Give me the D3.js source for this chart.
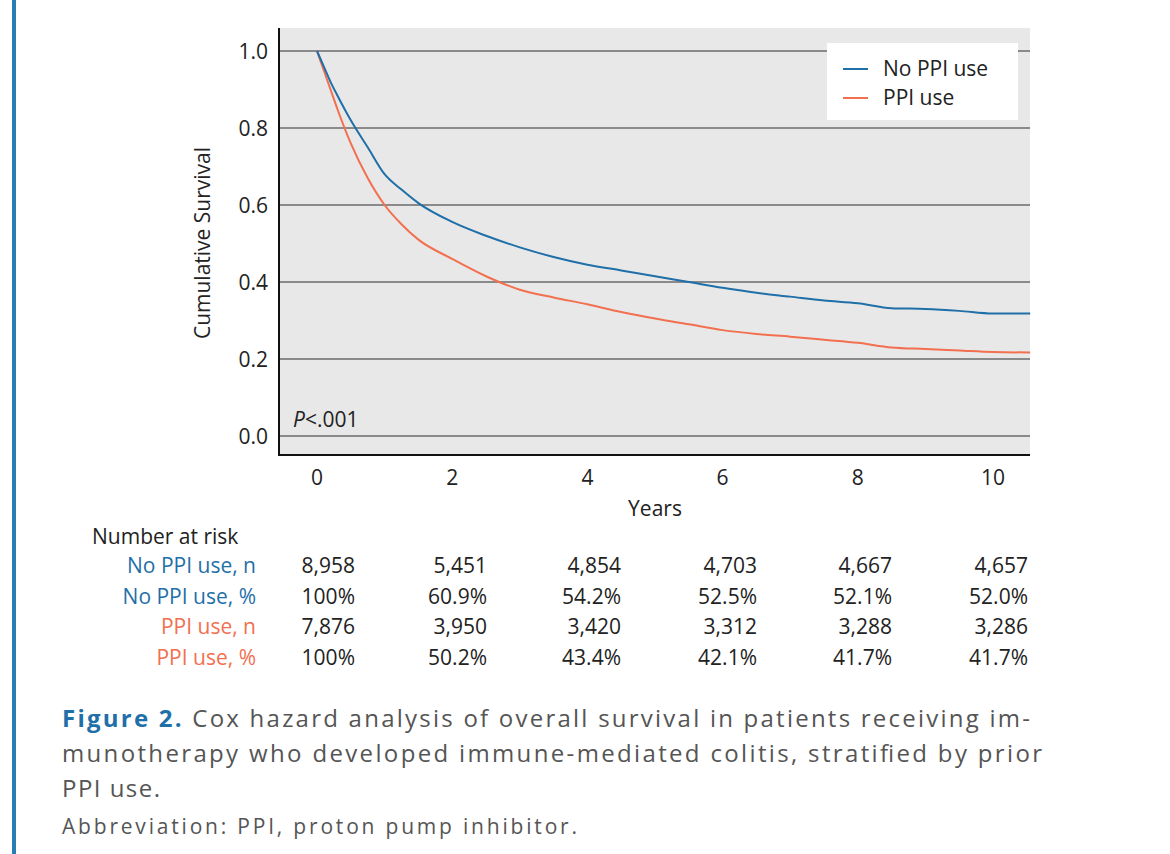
<!DOCTYPE html>
<html><head><meta charset="utf-8">
<script src="https://cdn.jsdelivr.net/npm/d3@7"></script>
<style>body{margin:0;background:#fff;font-family:"Open Sans",sans-serif}</style>
</head><body><svg id="c" width="1170" height="854"></svg>
<script>
// survival curves: [years, survival]
const noPpi = [[0,1],[0.1,0.96],[0.2,0.92],[0.3,0.885],[0.5,0.82],[0.75,0.75],[1,0.68],[1.25,0.64],[1.5,0.605],[2,0.556],[2.5,0.52],[3,0.49],[3.5,0.465],[4,0.445],[4.5,0.43],[5,0.415],[5.5,0.4],[6,0.385],[6.5,0.372],[7,0.362],[7.5,0.352],[8,0.345],[8.5,0.332],[9,0.33],[9.5,0.325],[10,0.318],[10.55,0.318]];
const ppi = [[0,1],[0.1,0.95],[0.2,0.9],[0.3,0.85],[0.5,0.76],[0.75,0.67],[1,0.6],[1.25,0.55],[1.5,0.51],[2,0.46],[2.5,0.415],[3,0.38],[3.5,0.36],[4,0.342],[4.5,0.322],[5,0.305],[5.5,0.29],[6,0.275],[6.5,0.265],[7,0.258],[7.5,0.25],[8,0.242],[8.5,0.23],[9,0.226],[9.5,0.222],[10,0.218],[10.55,0.217]];
const xTicks = [0,2,4,6,8,10];
const yTicks = [0,0.2,0.4,0.6,0.8,1.0];
const riskLabels = ["No PPI use, n","No PPI use, %","PPI use, n","PPI use, %"];
const riskRows = [
  ["8,958","5,451","4,854","4,703","4,667","4,657"],
  ["100%","60.9%","54.2%","52.5%","52.1%","52.0%"],
  ["7,876","3,950","3,420","3,312","3,288","3,286"],
  ["100%","50.2%","43.4%","42.1%","41.7%","41.7%"]
];
const blue = "#1f6fa8", orange = "#f2704f";
const rowColors = [blue, blue, orange, orange];

const svg = d3.select("#c");
svg.append("rect").attr("x",12).attr("y",0).attr("width",4).attr("height",854).attr("fill","#2a7cb4");

const L = 279, R = 1030, T = 28, B = 455;
const x = d3.scaleLinear().domain([0,10]).range([317,993]);
const y = d3.scaleLinear().domain([0,1]).range([436,51]);

svg.append("rect").attr("x",L).attr("y",T).attr("width",R-L).attr("height",B-T).attr("fill","#e8e8e8");
yTicks.forEach(t => svg.append("line").attr("x1",L).attr("x2",R).attr("y1",y(t)).attr("y2",y(t))
  .attr("stroke","#8a8a8a").attr("stroke-width",2));
svg.append("path").attr("d",`M${L},${T}V${B}H${R}`).attr("fill","none").attr("stroke","#111").attr("stroke-width",2);

const fs = 21;
yTicks.forEach(t => svg.append("text").attr("x",268).attr("y",y(t)+8).attr("text-anchor","end")
  .attr("font-size",fs).attr("fill","#222").text(t.toFixed(1)));
xTicks.forEach(t => svg.append("text").attr("x",x(t)).attr("y",485).attr("text-anchor","middle")
  .attr("font-size",fs).attr("fill","#222").text(t));
svg.append("text").attr("x",655).attr("y",516).attr("text-anchor","middle").attr("font-size",fs).attr("fill","#222").text("Years");
svg.append("text").attr("transform","translate(210,243) rotate(-90)").attr("text-anchor","middle")
  .attr("font-size",fs).attr("fill","#222").text("Cumulative Survival");
svg.append("text").attr("x",293).attr("y",427).attr("font-size",fs).attr("fill","#222")
  .html('<tspan font-style="italic">P</tspan>&lt;.001');

const line = d3.line().x(d => x(d[0])).y(d => y(d[1])).curve(d3.curveMonotoneX);
svg.append("path").datum(ppi).attr("d",line).attr("fill","none").attr("stroke",orange).attr("stroke-width",2);
svg.append("path").datum(noPpi).attr("d",line).attr("fill","none").attr("stroke",blue).attr("stroke-width",2);

// legend
svg.append("rect").attr("x",827).attr("y",43).attr("width",191).attr("height",77).attr("fill","#fff");
[["No PPI use",blue],["PPI use",orange]].forEach((d,i) => {
  const yy = 69 + i*29;
  svg.append("line").attr("x1",843).attr("x2",868).attr("y1",yy).attr("y2",yy).attr("stroke",d[1]).attr("stroke-width",2);
  svg.append("text").attr("x",883).attr("y",yy+7).attr("font-size",fs).attr("fill","#222").text(d[0]);
});

// number at risk table
svg.append("text").attr("x",92).attr("y",544).attr("font-size",fs).attr("fill","#222").text("Number at risk");
const colX = [355,487,621,757,892,1028];
riskRows.forEach((row,i) => {
  const yy = 573 + i*30.5;
  svg.append("text").attr("x",256).attr("y",yy).attr("text-anchor","end").attr("font-size",fs).attr("fill",rowColors[i]).text(riskLabels[i]);
  row.forEach((v,j) => svg.append("text").attr("x",colX[j]).attr("y",yy).attr("text-anchor","end")
    .attr("font-size",fs).attr("fill","#222").text(v));
});

// caption
const cap = svg.append("g").attr("font-size",24).attr("fill","#555");
cap.append("text").attr("x",62).attr("y",727).attr("textLength",968).attr("lengthAdjust","spacing")
  .html('<tspan font-weight="bold" fill="#1f6fa8">Figure 2.</tspan> Cox hazard analysis of overall survival in patients receiving im-');
cap.append("text").attr("x",62).attr("y",762).attr("textLength",980).attr("lengthAdjust","spacing")
  .text("munotherapy who developed immune-mediated colitis, stratified by prior");
cap.append("text").attr("x",62).attr("y",797).attr("textLength",98).attr("lengthAdjust","spacing").text("PPI use.");
cap.append("text").attr("x",62).attr("y",834).attr("font-size",21).attr("textLength",515).attr("lengthAdjust","spacing")
  .text("Abbreviation: PPI, proton pump inhibitor.");
</script></body></html>
